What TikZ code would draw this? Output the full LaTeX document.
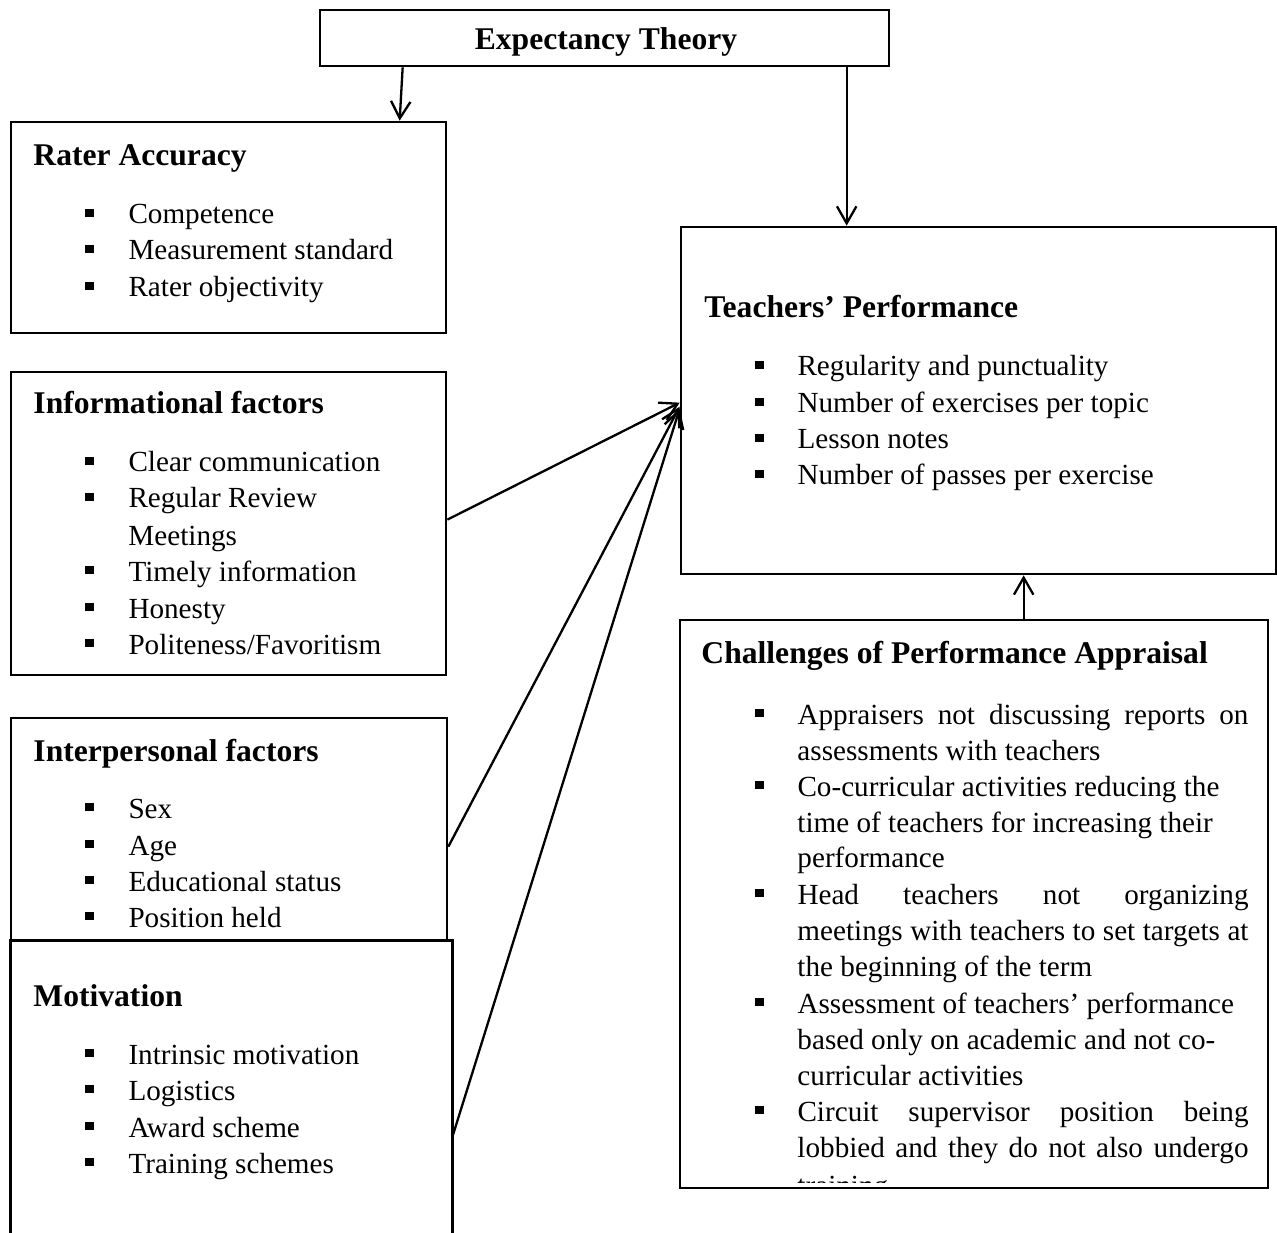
\documentclass[tikz,border=0pt]{standalone}
\usepackage{fontspec}
\setmainfont{Liberation Serif}
\usetikzlibrary{fit,calc,arrows.meta}
\newcommand{\bulbox}{\makebox[17.7pt][l]{\rule[2.9pt]{3.3pt}{3.3pt}}}
\newcommand{\bulboxr}{\makebox[17.3pt][l]{\rule[2.9pt]{3.3pt}{3.3pt}}}
\newcommand{\jline}[1]{\makebox[185.6pt][s]{#1}}
\tikzset{
  box/.style={draw, line width=1.1pt, inner sep=0pt},
  txt/.style={anchor=base west, inner sep=0pt, font=\fontsize{12}{14}\selectfont},
  hd/.style={anchor=base west, inner sep=0pt, font=\fontsize{13}{15}\selectfont\bfseries},
  arr/.style={-{Straight Barb[length=7pt,width=8pt]}, line width=0.95pt},
}
\begin{document}
\begin{tikzpicture}[x=0.4115pt,y=-0.4115pt]
\useasboundingbox (0,0) rectangle (1277,1233);
% boxes
\node[box, fit={(320,10)(889,66)}] (exp) {};
\node[hd, anchor=base] (expt) at (606,50) {Expectancy Theory};

\node[box, fit={(11,122)(446,333)}] (rater) {};
\node[hd] (raterh) at (33,166) {Rater Accuracy};
\node[txt] (r1) at (85,224) {\bulbox Competence};
\node[txt] (r2) at (85,260) {\bulbox Measurement standard};
\node[txt] (r3) at (85,297) {\bulbox Rater objectivity};

\node[box, fit={(11,372)(446,675)}] (info) {};
\node[hd] (infoh) at (33,414) {Informational factors};
\node[txt] (i1) at (85,472) {\bulbox Clear communication};
\node[txt] (i2) at (85,508) {\bulbox Regular Review};
\node[txt] (i2b) at (128,545) {Meetings};
\node[txt] (i3) at (85,581) {\bulbox Timely information};
\node[txt] (i4) at (85,618) {\bulbox Honesty};
\node[txt] (i5) at (85,654) {\bulbox Politeness/Favoritism};

\node[box, fit={(11,718)(447,941)}] (inter) {};
\node[hd] (interh) at (33,761) {Interpersonal factors};
\node[txt] (p1) at (85,818) {\bulbox Sex};
\node[txt] (p2) at (85,855) {\bulbox Age};
\node[txt] (p3) at (85,891) {\bulbox Educational status};
\node[txt] (p4) at (85,927) {\bulbox Position held};

\node[fit={(11,941)(452,1233)}, inner sep=0pt, fill=white] (mot) {};
\draw[line width=1.1pt] (mot.south west) -- (mot.north west) -- (mot.north east) -- (mot.south east);
\node[hd] (moth) at (33,1006) {Motivation};
\node[txt] (m1) at (85,1064) {\bulbox Intrinsic motivation};
\node[txt] (m2) at (85,1100) {\bulbox Logistics};
\node[txt] (m3) at (85,1137) {\bulbox Award scheme};
\node[txt] (m4) at (85,1173) {\bulbox Training schemes};

\node[box, fit={(681,227)(1276,574)}] (teach) {};
\node[hd] (teachh) at (704,318) {Teachers’ Performance};
\node[txt] (t1) at (755,376) {\bulboxr Regularity and punctuality};
\node[txt] (t2) at (755,413) {\bulboxr Number of exercises per topic};
\node[txt] (t3) at (755,449) {\bulboxr Lesson notes};
\node[txt] (t4) at (755,485) {\bulboxr Number of passes per exercise};

\node[box, fit={(680,620)(1268,1188)}] (chal) {};
\node[hd] (chalh) at (701,663) {Challenges of Performance Appraisal};
\node[txt] (c1) at (755,724) {\bulboxr\jline{Appraisers not discussing reports on}};
\node[txt] (c1b) at (797,760) {assessments with teachers};
\node[txt] (c2) at (755,796) {\bulboxr Co-curricular activities reducing the};
\node[txt] (c2b) at (797,832) {time of teachers for increasing their};
\node[txt] (c2c) at (797,867) {performance};
\node[txt] (c3) at (755,904) {\bulboxr\jline{Head teachers not organizing}};
\node[txt] (c3b) at (797,940) {\jline{meetings with teachers to set targets at}};
\node[txt] (c3c) at (797,976) {the beginning of the term};
\node[txt] (c4) at (755,1013) {\bulboxr Assessment of teachers’ performance};
\node[txt] (c4b) at (797,1049) {based only on academic and not co-};
\node[txt] (c4c) at (797,1085) {curricular activities};
\node[txt] (c5) at (755,1121) {\bulboxr\jline{Circuit supervisor position being}};
\node[txt] (c5b) at (797,1157) {\jline{lobbied and they do not also undergo}};
\begin{scope}
\clip (690,1150) rectangle (1260,1182);
\node[txt] (c5c) at (797,1195) {training};
\end{scope}

% connectors
\draw[arr] ($(exp.south west)+(84,0)$) -- ($(rater.north west)+(390,0)$);
\coordinate (e2) at ($(exp.south west)+(528,0)$);
\draw[arr] (e2) -- (e2 |- teach.north);
\draw[arr] ($(info.north east)+(0,149)$) -- ($(teach.north west)+(0,177)$);
\draw[arr] ($(inter.north east)+(0,130)$) -- ($(teach.north west)+(0,181)$);
\draw[arr] ($(mot.north east)+(0,196)$) -- ($(teach.north west)+(0,183)$);
\coordinate (u1) at ($(chal.north west)+(345,0)$);
\draw[arr] (u1) -- (u1 |- teach.south);
\end{tikzpicture}
\end{document}
